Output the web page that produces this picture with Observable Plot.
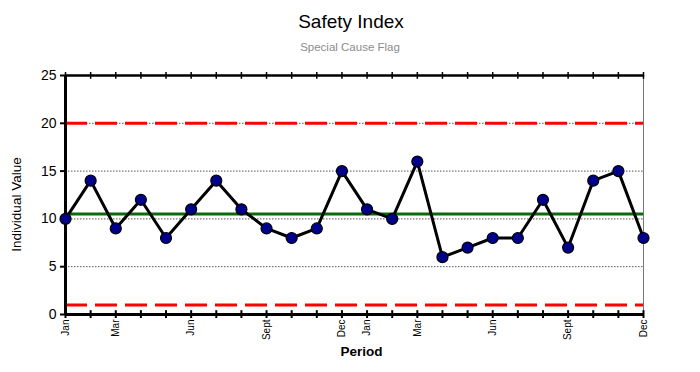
<!DOCTYPE html>
<html>
<head>
<meta charset="utf-8">
<script src="https://cdn.jsdelivr.net/npm/d3@7"></script>
<script src="https://cdn.jsdelivr.net/npm/@observablehq/plot@0.6"></script>
<style>
  html, body { margin: 0; padding: 0; background: #fff; }
  #wrap { position: relative; width: 700px; height: 372px; font-family: "Liberation Sans", Arial, sans-serif; }
  #title { position: absolute; left: 0; width: 702px; top: 11px; text-align: center; font-size: 19px; color: #000; }
  #subtitle { position: absolute; left: 0; width: 700px; top: 41px; text-align: center; font-size: 11.5px; color: #8c8c8c; }
  #chart { position: absolute; left: 0; top: 0; }
</style>
</head>
<body>
<div id="wrap">
  <div id="chart"></div>
  <div id="title">Safety Index</div>
  <div id="subtitle">Special Cause Flag</div>
</div>
<script>
const values = [10, 14, 9, 12, 8, 11, 14, 11, 9, 8, 9, 15, 11, 10, 16, 6, 7, 8, 8, 12, 7, 14, 15, 8];
const labelIndex = [0, 2, 5, 8, 11, 12, 14, 17, 20, 23];
const labelText = ["Jan", "Mar", "Jun", "Sept", "Dec", "Jan", "Mar", "Jun", "Sept", "Dec"];
const yTicks = [0, 5, 10, 15, 20, 25];
const gridLines = [5, 10, 15, 20];
const centerLine = [10.5];
const controlLimits = [20, 1];

const data = values.map((v, i) => ({i, v}));
const idx = values.map((_, i) => i);
const labelMap = new Map(labelIndex.map((k, j) => [k, labelText[j]]));

const chart = Plot.plot({
  width: 700,
  height: 372,
  marginTop: 75,
  marginLeft: 65,
  marginRight: 57,
  marginBottom: 58,
  style: {fontFamily: "Liberation Sans, Arial, sans-serif", background: "white", color: "black"},
  x: {type: "linear", domain: [0, values.length - 1]},
  y: {domain: [0, 25]},
  marks: [
    Plot.ruleY(gridLines, {stroke: "#555", strokeWidth: 1, strokeDasharray: "1.5,1.5"}),
    Plot.ruleY(centerLine, {stroke: "#0a6b0a", strokeWidth: 3}),
    Plot.ruleY(controlLimits, {stroke: "#ff0000", strokeWidth: 3, strokeDasharray: "22,8"}),
    Plot.ruleX([values.length - 1], {stroke: "#777", strokeWidth: 1}),
    Plot.ruleY([25], {stroke: "black", strokeWidth: 2.5}),
    Plot.ruleY([0], {stroke: "black", strokeWidth: 3}),
    Plot.ruleX([0], {stroke: "black", strokeWidth: 3}),
    // inward tick parts
    Plot.ruleX(idx, {x: d => d, y1: 0, y2: 0.4, stroke: "black", strokeWidth: 2}),
    Plot.ruleX(idx, {x: d => d, y1: 24.6, y2: 25, stroke: "black", strokeWidth: 1.5}),
    Plot.axisX({anchor: "bottom", ticks: idx, tickSize: 4, tickFormat: () => "", strokeWidth: 2, label: null}),
    Plot.axisX({anchor: "top", ticks: idx, tickSize: 4, tickFormat: () => "", strokeWidth: 1.5, label: null}),
    Plot.axisX({anchor: "bottom", ticks: labelIndex, tickSize: 0, tickPadding: 5, tickRotate: -90,
                tickFormat: d => labelMap.get(d), fontSize: 10, label: null}),
    Plot.axisY({ticks: yTicks, tickSize: 5, tickPadding: 4, fontSize: 14, strokeWidth: 2, label: null}),
    Plot.line(data, {x: "i", y: "v", stroke: "black", strokeWidth: 3}),
    Plot.dot(data, {x: "i", y: "v", r: 5.5, fill: "#00008b", stroke: "black", strokeWidth: 1.2}),
    Plot.text(["Period"], {frameAnchor: "bottom", dy: 41, fontSize: 13.5, fontWeight: "bold", dx: 7}),
    Plot.text(["Individual Value"], {frameAnchor: "left", textAnchor: "middle", dx: -49, dy: 9.5, rotate: -90, fontSize: 13.5})
  ]
});
document.getElementById("chart").appendChild(chart);
</script>
</body>
</html>
